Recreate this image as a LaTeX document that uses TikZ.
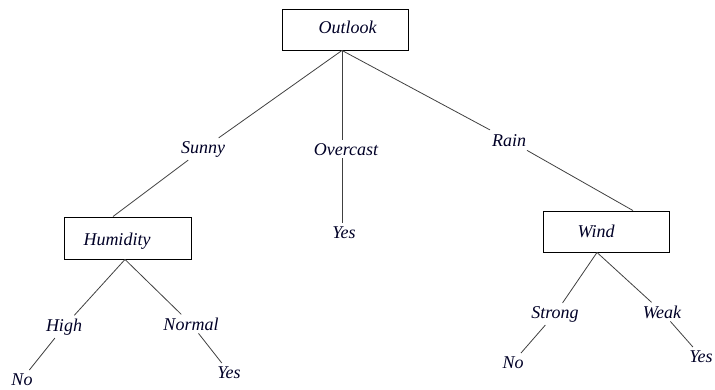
\documentclass[tikz,border=0pt]{standalone}
\usepackage{fontspec}
\setmainfont{Liberation Serif}
\begin{document}
\begin{tikzpicture}[x=1pt,y=-1pt,
  box/.style={draw=black, line width=0.9pt, rectangle, inner sep=0pt},
  lbl/.style={font=\fontsize{18}{20}\selectfont\itshape, anchor=base, inner sep=3pt, text=black!85!blue},
  edge/.style={draw=black!75, line width=0.8pt}]
\useasboundingbox (0,0) rectangle (715,389);
\clip (0,0) rectangle (715,389);
% boxes
\node[box, minimum width=126pt, minimum height=41pt] (outlook) at (345,29.5) {};
\node[box, minimum width=127pt, minimum height=42pt] (humidity) at (127.5,238) {};
\node[box, minimum width=126pt, minimum height=41pt] (wind) at (606,231.5) {};
\node[lbl] (outlookT) at (347.5,33.5) {Outlook};
\node[lbl] (humidityT) at (117,245) {Humidity};
\node[lbl] (windT) at (596,237) {Wind};
% labels
\node[lbl] (sunny) at (203,153) {Sunny};
\node[lbl] (overcast) at (346,155) {Overcast};
\node[lbl, inner sep=4pt] (rain) at (509,146) {Rain};
\node[lbl] (yes1) at (344,238) {Yes};
\node[lbl] (high) at (64,331) {High};
\node[lbl] (normal) at (191,330) {Normal};
\node[lbl] (no1) at (22,385) {No};
\node[lbl] (yes2) at (229,378) {Yes};
\node[lbl] (strong) at (555,318) {Strong};
\node[lbl] (weak) at (662,318) {Weak};
\node[lbl] (no2) at (513,368) {No};
\node[lbl] (yes3) at (701,362) {Yes};
% connection points
\coordinate (apex) at ([xshift=-3pt]outlook.south);
\coordinate (hTop) at ([xshift=-14.5pt]humidity.north);
\coordinate (wTop) at ([xshift=27pt]wind.north);
\coordinate (hA) at ([xshift=-2.5pt]humidity.south);
\coordinate (wA) at ([xshift=-9pt]wind.south);
% edges
\draw[edge] (apex) -- (sunny) -- (hTop);
\draw[edge] (apex) -- (apex |- overcast.north);
\draw[edge] (apex |- overcast.south) -- (apex |- yes1.north);
\draw[edge] (apex) -- (rain) -- (wTop);
\draw[edge] (hA) -- (high) -- (no1);
\draw[edge] (hA) -- (normal) -- (yes2);
\draw[edge] (wA) -- (strong) -- (no2);
\draw[edge] (wA) -- (weak) -- (yes3);
\end{tikzpicture}
\end{document}
